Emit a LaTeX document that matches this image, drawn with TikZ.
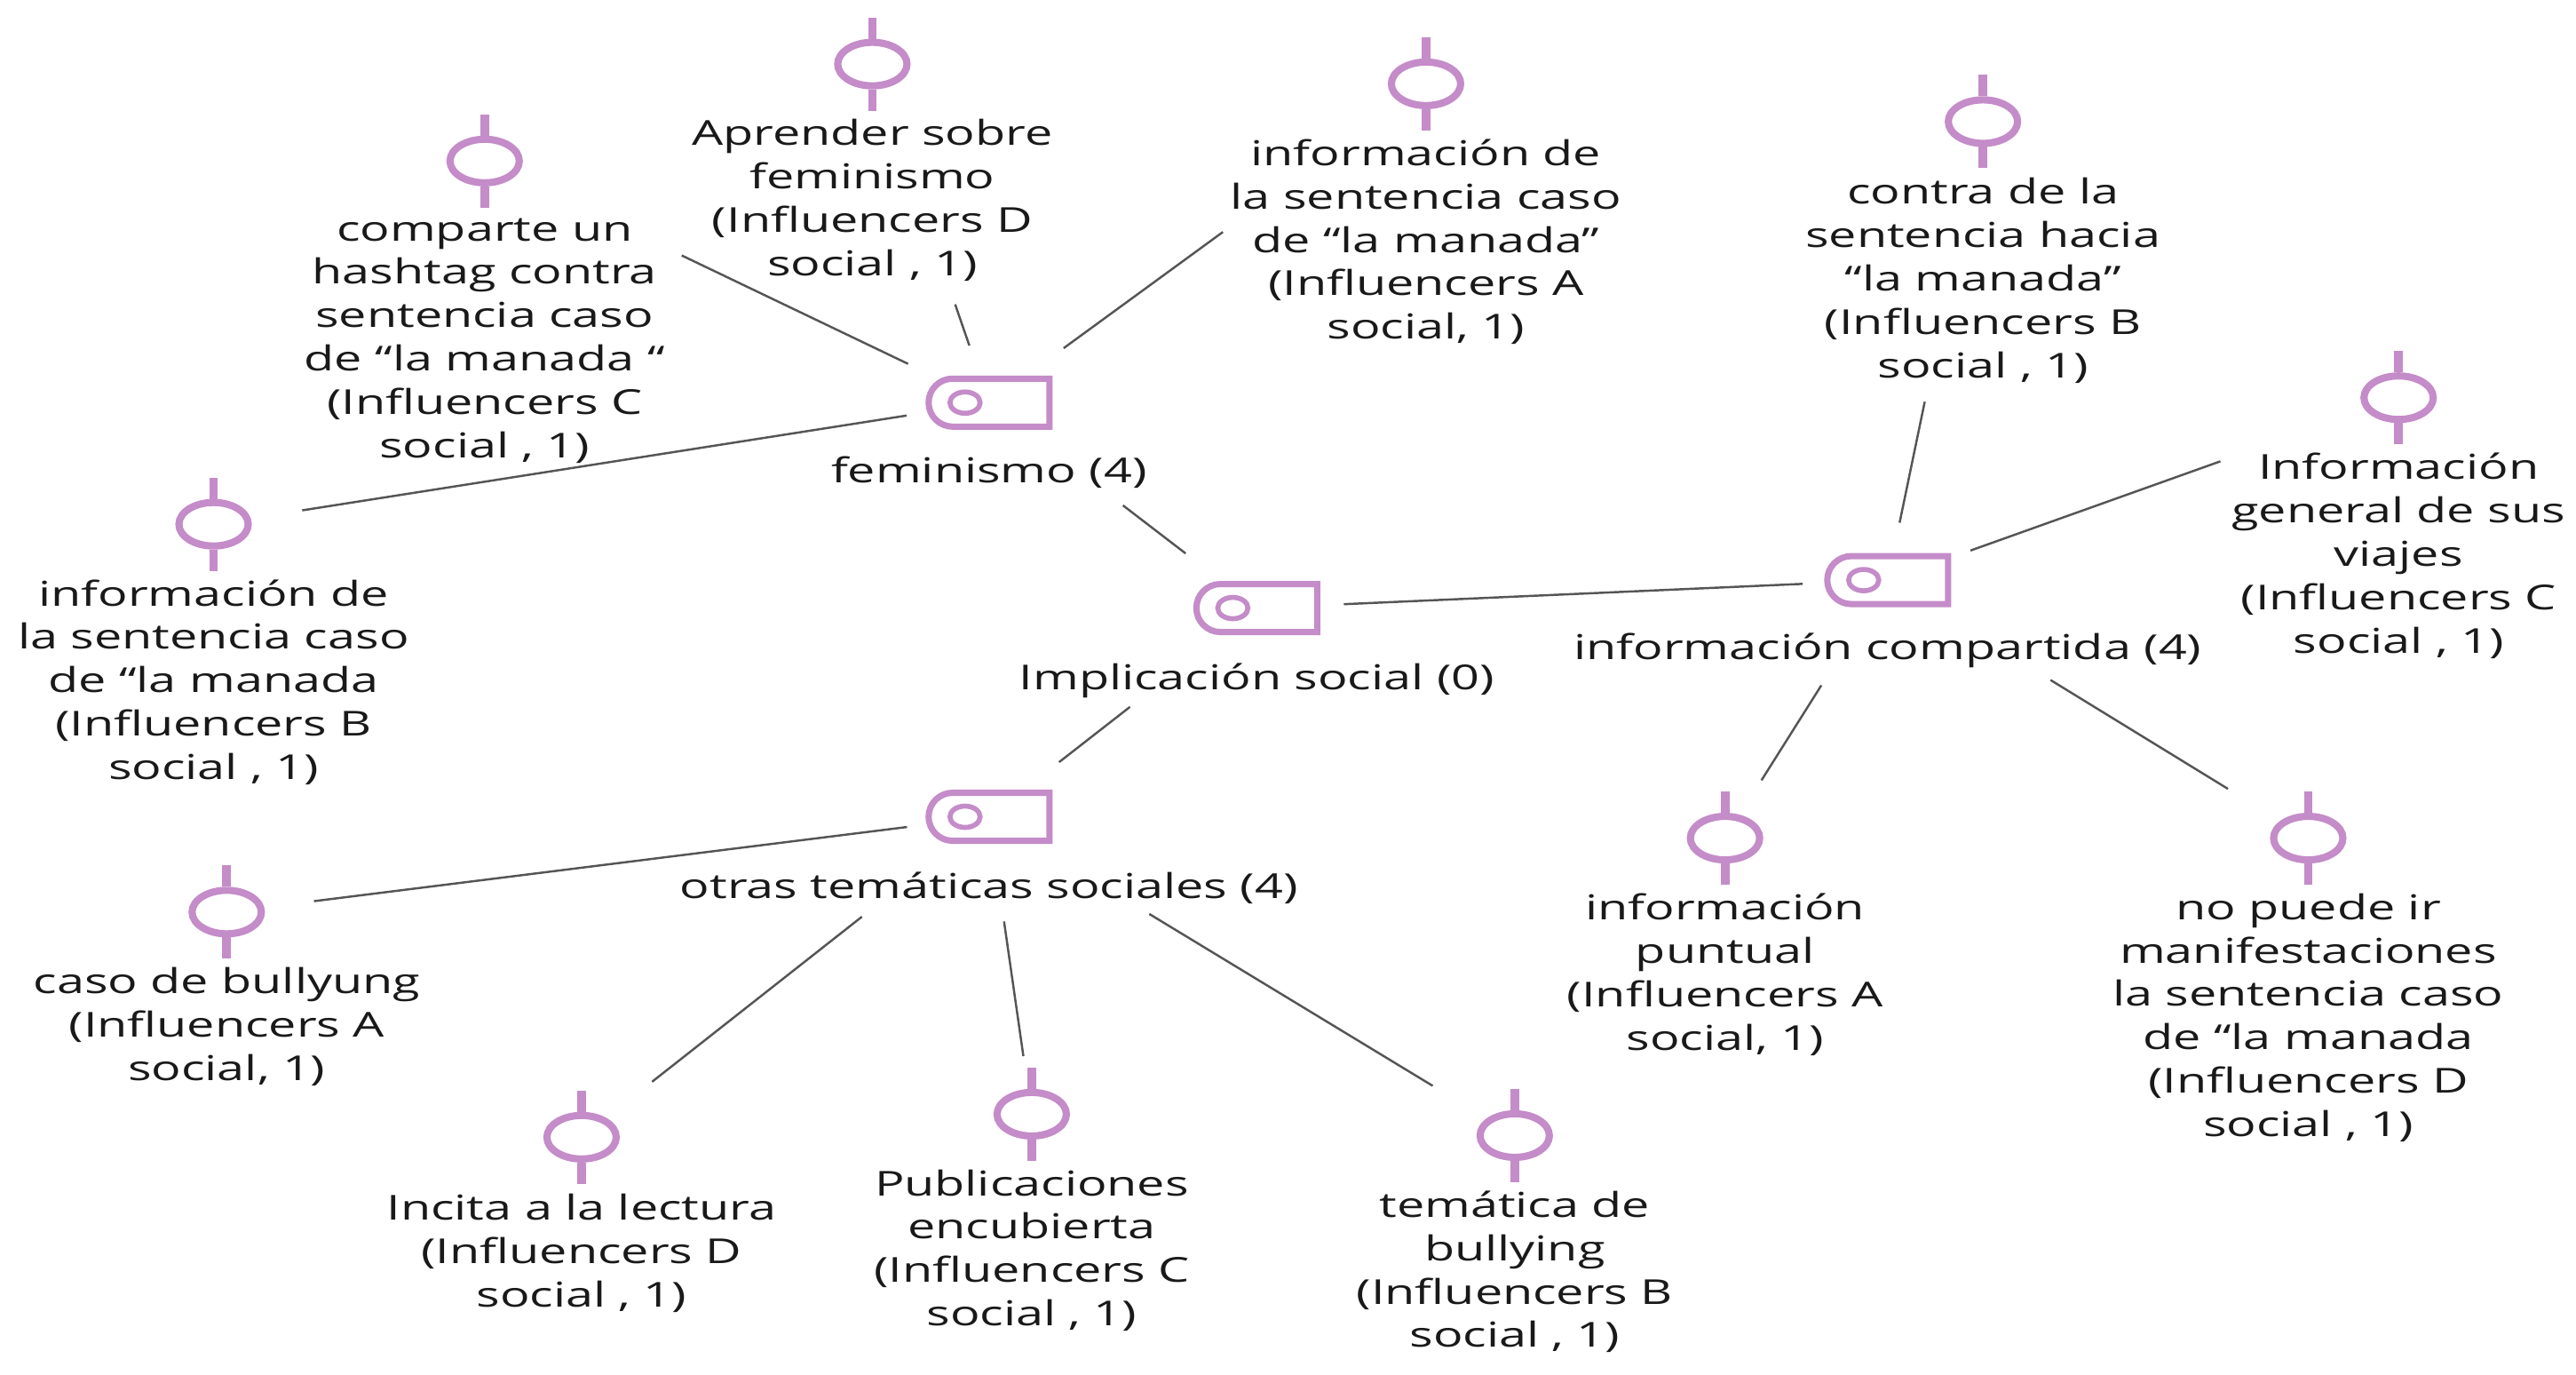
\documentclass[tikz,border=0pt]{standalone}
\usepackage{fontspec}
\setmainfont[FakeStretch=1.44]{Open Sans}
\usetikzlibrary{positioning,shapes.geometric,shapes.misc}

\definecolor{iconpurple}{RGB}{196,140,200}
\definecolor{linkgray}{RGB}{85,85,85}

\tikzset{
	leaficon/.style =
	{draw = iconpurple,
		shape = ellipse,
		line width = 2.3pt,
		inner sep = 0pt,
		minimum width = 0.78cm,
		minimum height = 0.49cm,
		append after command = {(\tikzlastnode.north) edge[iconstem] ++(0cm,0.24cm)
			(\tikzlastnode.south) edge[iconstem] ++(0cm,-0.24cm)}},
	iconstem/.style = {draw = iconpurple, line width = 2.8pt},
	codeicon/.style =
	{draw = iconpurple,
		shape = rounded rectangle,
		rounded rectangle right arc = none,
		line width = 2pt,
		inner sep = 0pt,
		minimum width = 1.36cm,
		minimum height = 0.54cm,
		append after command = {([xshift=-0.27cm]\tikzlastnode.center) node[codedot] {}}},
	codedot/.style =
	{draw = iconpurple,
		shape = ellipse,
		line width = 1.6pt,
		inner sep = 0pt,
		minimum width = 0.34cm,
		minimum height = 0.24cm},
	nodetext/.style =
	{align = center,
		inner sep = 0pt,
		font = \fontsize{11}{13.9}\selectfont,
		color = black!90},
	link/.style = {draw = linkgray, line width = 0.7pt}
}

\begin{document}
\begin{tikzpicture}[x=0.018501cm,y=-0.0185cm]
\useasboundingbox (0,0) rectangle (1568,836.2);
% codes
\node[codeicon] (implicacion) at (765,370) {};
\node[nodetext, below=3.1mm of implicacion] (implicaciontext) {Implicación social (0)};
\node[codeicon] (feminismo) at (602,245) {};
\node[nodetext, below=2.9mm of feminismo] (feminismotext) {feminismo (4)};
\node[codeicon] (compartida) at (1149,353) {};
\node[nodetext, below=2.9mm of compartida] (compartidatext) {información compartida (4)};
\node[codeicon] (otras) at (602,497) {};
\node[nodetext, below=3.1mm of otras] (otrastext) {otras temáticas sociales (4)};
% quotations
\node[leaficon] (hashtag) at (295,98) {};
\node[nodetext, below=3.5mm of hashtag] (hashtagtext) {comparte un\\hashtag contra\\sentencia caso\\de “la manada “\\(Influencers C\\social , 1)};
\node[leaficon] (aprender) at (531,39) {};
\node[nodetext, below=3.3mm of aprender] (aprendertext) {Aprender sobre\\feminismo\\(Influencers D\\social , 1)};
\node[leaficon] (sentenciaA) at (868,51) {};
\node[nodetext, below=3.3mm of sentenciaA] (sentenciaAtext) {información de\\la sentencia caso\\de “la manada”\\(Influencers A\\social, 1)};
\node[leaficon] (sentenciaB) at (130,319) {};
\node[nodetext, below=3.3mm of sentenciaB] (sentenciaBtext) {información de\\la sentencia caso\\de “la manada\\(Influencers B\\social , 1)};
\node[leaficon] (contra) at (1207,74) {};
\node[nodetext, below=3.4mm of contra] (contratext) {contra de la\\sentencia hacia\\“la manada”\\(Influencers B\\social , 1)};
\node[leaficon] (viajes) at (1460,242) {};
\node[nodetext, below=3.3mm of viajes] (viajestext) {Información\\general de sus\\viajes\\(Influencers C\\social , 1)};
\node[leaficon] (puntual) at (1050,510) {};
\node[nodetext, below=3.3mm of puntual] (puntualtext) {información\\puntual\\(Influencers A\\social, 1)};
\node[leaficon] (manifestaciones) at (1405,510) {};
\node[nodetext, below=3.3mm of manifestaciones] (manifestacionestext) {no puede ir\\manifestaciones\\la sentencia caso\\de “la manada\\(Influencers D\\social , 1)};
\node[leaficon] (bullyung) at (138,555) {};
\node[nodetext, below=3.3mm of bullyung] (bullyungtext) {caso de bullyung\\(Influencers A\\social, 1)};
\node[leaficon] (lectura) at (354,692) {};
\node[nodetext, below=3.5mm of lectura] (lecturatext) {Incita a la lectura\\(Influencers D\\social , 1)};
\node[leaficon] (encubierta) at (628,678) {};
\node[nodetext, below=3.3mm of encubierta] (encubiertatext) {Publicaciones\\encubierta\\(Influencers C\\social , 1)};
\node[leaficon] (bullying) at (922,691) {};
\node[nodetext, below=3.3mm of bullying] (bullyingtext) {temática de\\bullying\\(Influencers B\\social , 1)};
% links
\foreach \from/\to/\s/\t in {hashtag/feminismo/2.46/1.01, aprender/feminismo/2.86/0.68,
	sentenciaA/feminismo/2.83/1.04, sentenciaB/feminismo/1.01/0.94,
	feminismo/implicacion/1.90/1.01, contra/compartida/3.22/0.66,
	viajes/compartida/2.13/0.99, implicacion/compartida/0.98/0.96,
	puntual/compartida/0.77/1.40, manifestaciones/compartida/1.06/2.15,
	implicacion/otras/1.81/1.00, bullyung/otras/0.99/0.93,
	lectura/otras/1.01/1.82, encubierta/otras/0.66/1.19,
	bullying/otras/1.08/2.11}
	\draw[link, shorten <=\s cm, shorten >=\t cm] (\from.center) -- (\to.center);
\end{tikzpicture}
\end{document}
